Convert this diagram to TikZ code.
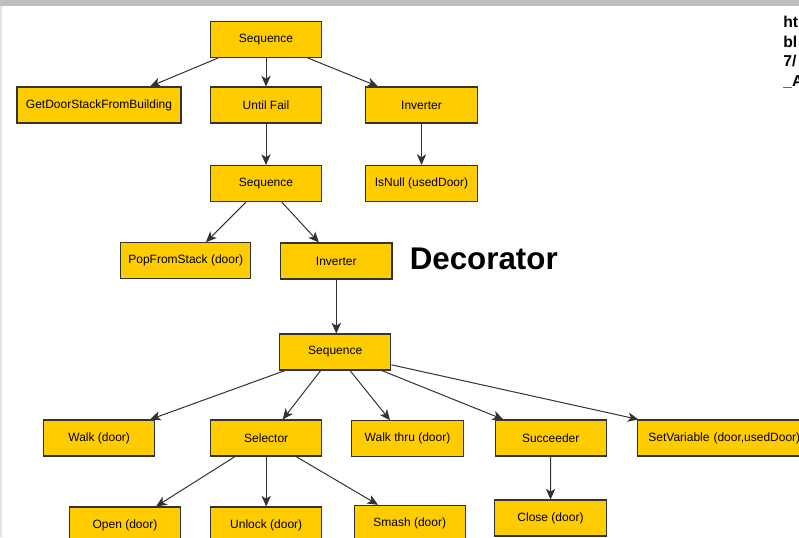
\documentclass[tikz,border=0pt]{standalone}
\usepackage{fontspec}
\setmainfont{Liberation Sans}
\usetikzlibrary{arrows.meta}
\definecolor{boxfill}{HTML}{FFCC00}
\definecolor{boxline}{HTML}{333333}
\definecolor{arrline}{HTML}{333333}
\definecolor{topbar}{HTML}{BEBEBE}
\definecolor{leftbar}{HTML}{E4E4E4}
\tikzset{
  bt/.style={draw=boxline, line width=0.8pt, fill=boxfill, inner sep=0pt,
    minimum height=27pt, minimum width=83.5pt, text=black,
    font=\fontsize{9}{11}\selectfont},
  arr/.style={draw=arrline, line width=0.75pt,
    -{Stealth[length=8pt,width=7pt,inset=2.2pt]}},
  urltext/.style={anchor=base west, inner sep=0pt, font=\fontsize{11.8}{13}\selectfont\bfseries}
}
\begin{document}
\begin{tikzpicture}[x=0.75pt,y=-0.75pt]
\useasboundingbox (0,0) rectangle (799,537);
\clip (0,0) rectangle (799,537);
\fill[white] (0,0) rectangle (799,537);
\fill[topbar] (0,0) rectangle (799,6);
\fill[leftbar] (0,6) rectangle (2,537);

% nodes
\node[bt] (seqA) at (266,39.5) {Sequence};
\node[bt, minimum width=123pt] (getdoor) at (99,105) {GetDoorStackFromBuilding};
\node[bt] (untilfail) at (266,105) {Until Fail};
\node[bt] (invA) at (421.5,105) {Inverter};
\node[bt] (seqB) at (266,183.5) {Sequence};
\node[bt] (isnull) at (421.5,183.5) {IsNull (usedDoor)};
\node[bt, minimum width=97.5pt] (pop) at (185.7,260.7) {PopFromStack (door)};
\node[bt] (invB) at (336.3,261) {Inverter};
\node[bt] (seqC) at (335.2,352) {Sequence};
\node[bt] (walk) at (99.2,438) {Walk (door)};
\node[bt] (selector) at (266.2,438) {Selector};
\node[bt] (walkthru) at (407.5,438.8) {Walk thru (door)};
\node[bt] (succeeder) at (550.7,438) {Succeeder};
\node[bt, anchor=west, inner xsep=8.5pt, text width=130pt, align=left] (setvar) at (636.5,438) {SetVariable (door,usedDoor)};
\node[bt] (open) at (125,525) {Open (door)};
\node[bt] (unlock) at (266.2,525) {Unlock (door)};
\node[bt] (smash) at (409.7,523.3) {Smash (door)};
\node[bt] (close) at (550.5,518) {Close (door)};

\node[anchor=base west, inner sep=0pt, font=\fontsize{23.5}{26}\selectfont\bfseries] (deco) at (409.5,269.3) {Decorator};

\node[urltext] (u1) at (783,27) {ht};
\node[urltext] (u2) at (783,47) {bl};
\node[urltext] (u3) at (783,66.5) {7/};
\node[urltext] (u4) at (783,86) {\_A};

% connectors
\draw[arr] ([xshift=-36pt]seqA.south) -- ([xshift=38.25pt]getdoor.north);
\draw[arr] (seqA.south) -- (untilfail.north);
\draw[arr] ([xshift=31.5pt]seqA.south) -- ([xshift=-32.6pt]invA.north);
\draw[arr] (untilfail.south) -- (seqB.north);
\draw[arr] (invA.south) -- (isnull.north);
\draw[arr] ([xshift=-15pt]seqB.south) -- ([xshift=15.2pt]pop.north);
\draw[arr] ([xshift=11.8pt]seqB.south) -- ([xshift=-13pt]invB.north);
\draw[arr] (invB.south) -- (invB.south |- seqC.north);
\draw[arr] ([xshift=-37.6pt]seqC.south) -- ([xshift=38.1pt]walk.north);
\draw[arr] ([xshift=-10.9pt]seqC.south) -- ([xshift=12.4pt]selector.north);
\draw[arr] ([xshift=11.1pt]seqC.south) -- ([xshift=-13.1pt]walkthru.north);
\draw[arr] ([xshift=34.9pt]seqC.south) -- ([xshift=-35.5pt]succeeder.north);
\draw[arr] ([yshift=4.3pt]seqC.south east) -- ([xshift=1.5pt]setvar.north west);
\draw[arr] ([xshift=-23.4pt]selector.south) -- ([xshift=23.25pt]open.north);
\draw[arr] (selector.south) -- (unlock.north);
\draw[arr] ([xshift=22.35pt]selector.south) -- ([xshift=-23.8pt]smash.north);
\draw[arr] (succeeder.south) -- (close.north);
\end{tikzpicture}
\end{document}
